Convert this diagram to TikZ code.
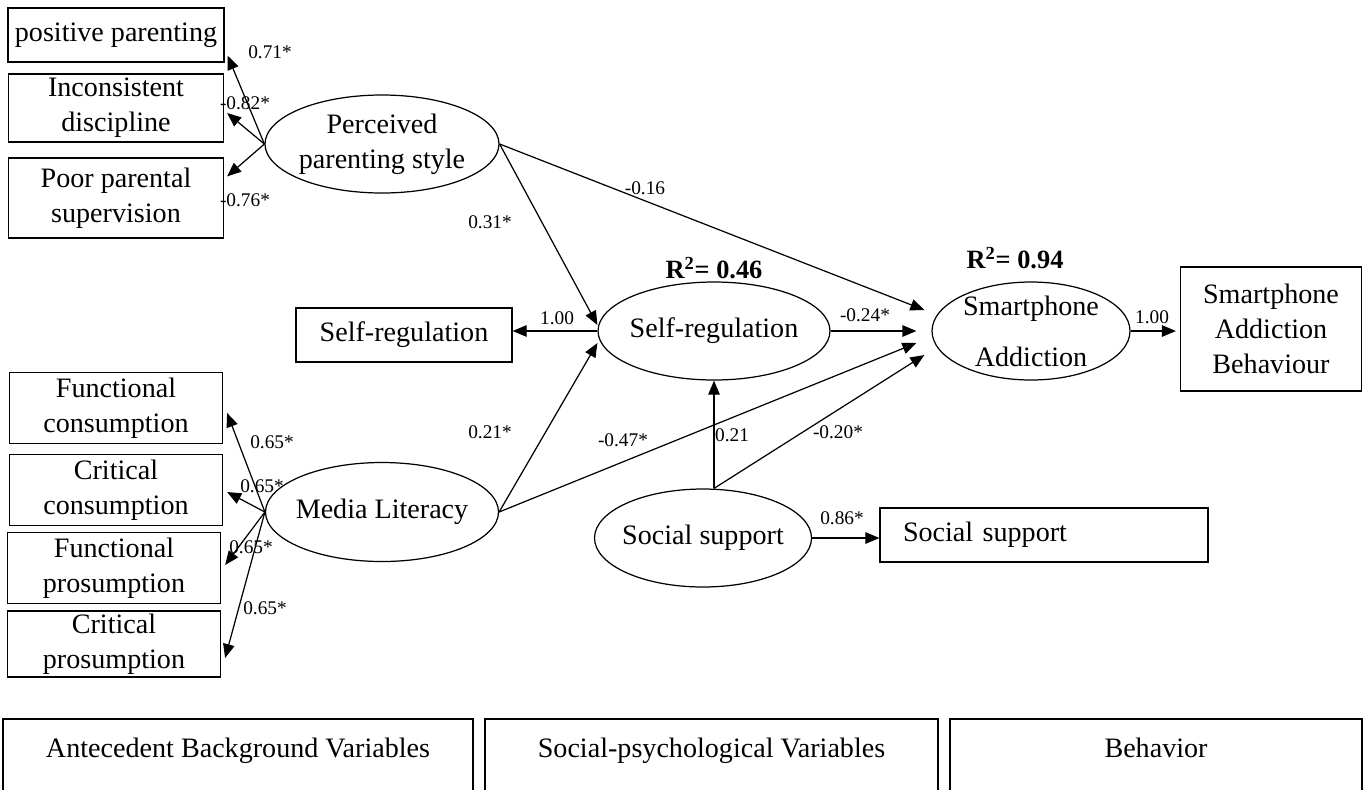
\documentclass[tikz,border=0pt]{standalone}
\usepackage{fontspec}
\setmainfont{Liberation Serif}
\usetikzlibrary{arrows.meta,shapes.geometric,calc}
\newcommand{\boxfont}{\fontsize{16}{20}\selectfont}
\newcommand{\lblfont}{\fontsize{11}{13}\selectfont}
\newcommand{\px}{0.02cm}

\begin{document}
\begin{tikzpicture}[
    x=0.02cm, y=-0.02cm,
    >={Triangle[length=2.8mm,width=2.3mm]},
    box/.style={draw, line width=0.7pt, align=center, inner sep=0pt, font=\boxfont},
    lat/.style={draw, ellipse, line width=0.7pt, align=center, inner sep=-0.2cm, font=\boxfont},
    lbl/.style={font=\lblfont, inner sep=0pt},
    rsq/.style={font=\fontsize{15}{18}\selectfont\bfseries, inner sep=0pt},
    band/.style={draw, line width=1pt, anchor=north, inner sep=0pt, text height=0.78cm, text depth=1.5cm, font=\boxfont},
    wire/.style={line width=0.7pt},
  ]
  \useasboundingbox (0,0) rectangle (1364,789);

  % parenting style
  \node[box, minimum width=216*\px, minimum height=54*\px] (pp) at (116,35) {positive parenting};
  \node[box, minimum width=215*\px, minimum height=68*\px] (id) at (116,108) {Inconsistent\\discipline};
  \node[box, minimum width=215*\px, minimum height=80*\px] (ps) at (116,198) {Poor parental\\supervision};
  \node[lat, minimum width=234*\px, minimum height=98*\px] (pps) at (382,144) {Perceived\\parenting style};

  % media literacy
  \node[box, minimum width=213*\px, minimum height=71*\px] (fc) at (116,408) {Functional\\consumption};
  \node[box, minimum width=213*\px, minimum height=71*\px] (cc) at (116,490) {Critical\\consumption};
  \node[box, minimum width=213*\px, minimum height=71*\px] (fp) at (114,568) {Functional\\prosumption};
  \node[box, minimum width=213*\px, minimum height=66*\px] (cp) at (114,644) {Critical\\prosumption};
  \node[lat, minimum width=233*\px, minimum height=99*\px] (ml) at (382,512) {Media Literacy};

  % middle and right
  \node[box, minimum width=216*\px, minimum height=54*\px] (srb) at (404,335) {Self-regulation};
  \node[lat, minimum width=232*\px, minimum height=98*\px] (sr) at (714,331) {Self-regulation};
  \node[lat, minimum width=198*\px, minimum height=98*\px] (sa) at (1031,331) {Smartphone\\[9pt]Addiction};
  \node[box, minimum width=181*\px, minimum height=124*\px] (sab) at (1271,329) {Smartphone\\Addiction\\Behaviour};
  \node[lat, minimum width=217*\px, minimum height=98*\px] (ss) at (703,538) {Social support};
  \node[box, minimum width=328*\px, minimum height=54*\px, text width=282*\px, align=left] (ssb) at (1044,535) {Social support};

  \node[rsq] (r1) at (714,268) {R\textsuperscript{2}= 0.46};
  \node[rsq] (r2) at (1015,258) {R\textsuperscript{2}= 0.94};

  % bottom bands
  \node[band, minimum width=470*\px] (ab) at (238,718) {Antecedent Background Variables};
  \node[band, minimum width=453*\px] (spv) at (711.5,718) {Social-psychological Variables};
  \node[band, minimum width=412*\px] (bh) at (1156,718) {Behavior};

  % loadings
  \draw[->,wire] (pps.west) -- ($(pp.south east)+(3,-7)$);
  \draw[->,wire] (pps.west) -- ($(id.east)+(3,5)$);
  \draw[->,wire] (pps.west) -- ($(ps.north east)+(3,19)$);
  \draw[->,wire] (ml.west) -- ($(fc.east)+(4,5)$);
  \draw[->,wire] (ml.west) -- ($(cc.east)+(4,2)$);
  \draw[->,wire] (ml.west) -- ($(fp.east)+(4,-3)$);
  \draw[->,wire] (ml.west) -- ($(cp.east)+(4,14)$);
  \draw[->,wire] (sr.west) -- (sr.west -| srb.east);
  \draw[->,wire] (sa.east) -- ($(sa.east -| sab.west)+(-4,0)$);
  \draw[->,wire] (ss.east) -- (ss.east -| ssb.west);

  % paths
  \draw[->,wire] (pps.east) -- ($(sr.west)+(0,-6)$);
  \draw[->,wire] (pps.east) -- ($(sa.west)+(-7,-21)$);
  \draw[->,wire] (ml.east) -- ($(sr.west)+(0,12)$);
  \draw[->,wire] (ml.east) -- ($(sa.west)+(-15,12)$);
  \draw[->,wire] (sr.east) -- ($(sa.west)+(-15,0)$);
  \coordinate (sst) at (sr.south |- ss.north);
  \draw[->,wire] (sst) -- (sr.south);
  \draw[->,wire] (sst) -- ($(sa.west)+(-7,24)$);

  \node[lbl] (l1) at (270,52) {0.71*};
  \node[lbl] (l2) at (245,103) {-0.82*};
  \node[lbl] (l3) at (245,200) {-0.76*};
  \node[lbl] (l4) at (272,442) {0.65*};
  \node[lbl] (l5) at (262,486) {0.65*};
  \node[lbl] (l6) at (251,547) {0.65*};
  \node[lbl] (l7) at (265,608) {0.65*};
  \node[lbl] (l8) at (490,222) {0.31*};
  \node[lbl] (l9) at (490,432) {0.21*};
  \node[lbl] (l10) at (645,188) {-0.16};
  \node[lbl] (l11) at (557,318) {1.00};
  \node[lbl] (l12) at (865,315) {-0.24*};
  \node[lbl] (l13) at (623,440) {-0.47*};
  \node[lbl] (l14) at (732,435) {0.21};
  \node[lbl] (l15) at (838,432) {-0.20*};
  \node[lbl] (l16) at (842,518) {0.86*};
  \node[lbl] (l17) at (1152,317) {1.00};
\end{tikzpicture}
\end{document}
